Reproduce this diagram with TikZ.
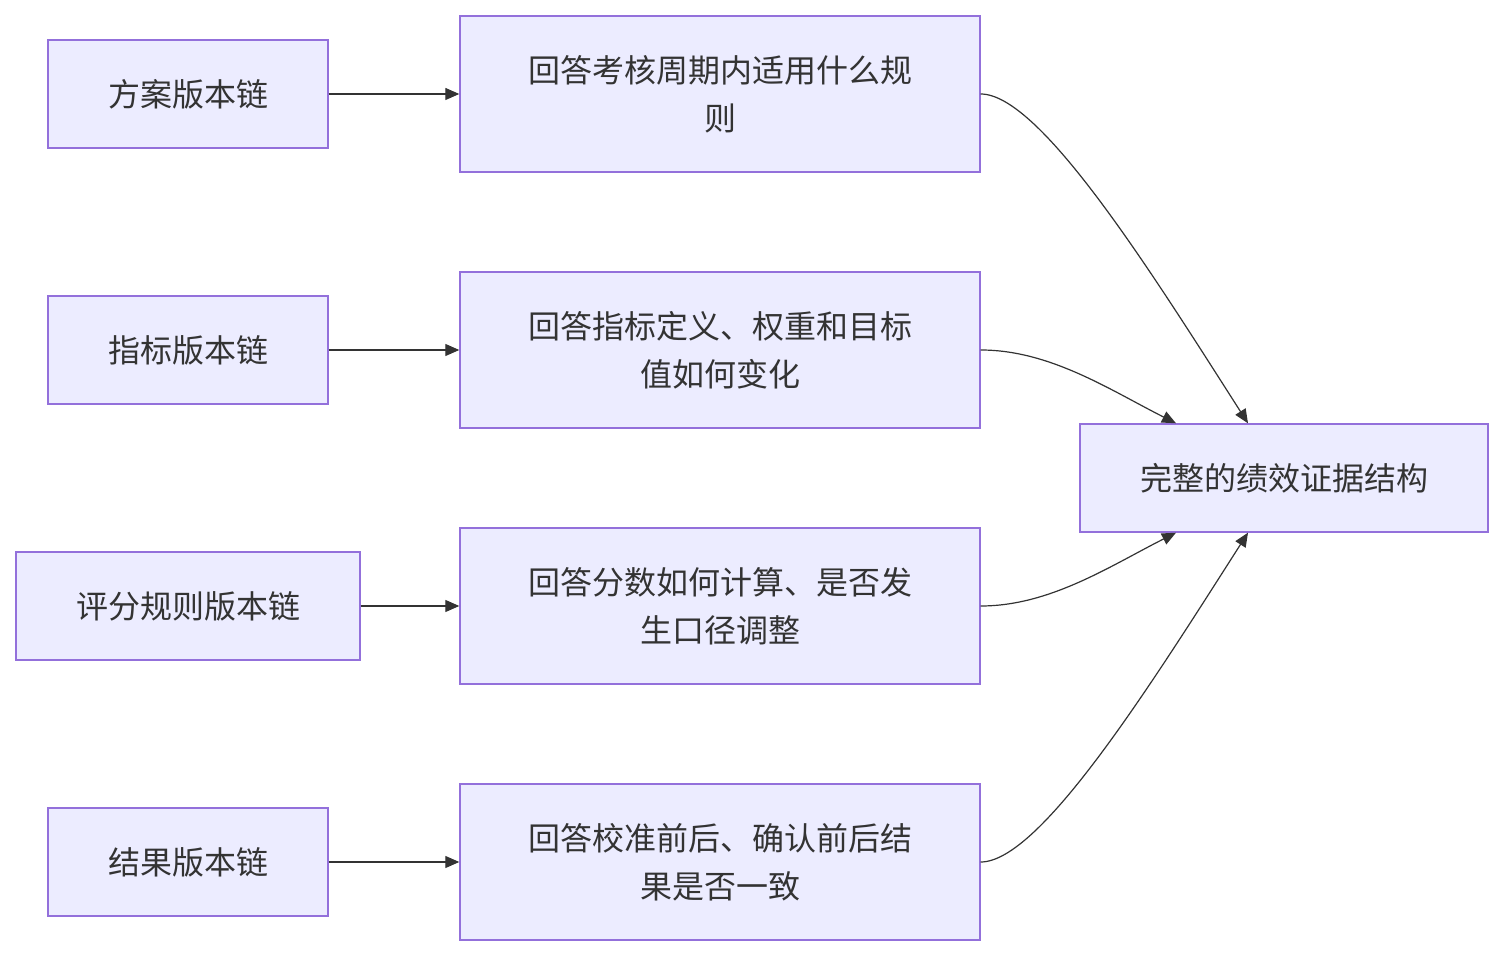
\documentclass[tikz,border=0pt]{standalone}
\usepackage{fontspec}
\setmainfont{Noto Sans CJK SC}
\usetikzlibrary{positioning,arrows.meta}
\definecolor{boxfill}{HTML}{ECECFF}
\definecolor{boxline}{HTML}{9370DB}
\definecolor{ink}{HTML}{333333}
\tikzset{
  chain/.style={draw=boxline, fill=boxfill, line width=0.7pt, minimum height=54pt, text=ink, font=\fontsize{16}{24}\selectfont, inner sep=0pt},
  answer/.style={chain, minimum width=260pt, minimum height=78pt, align=center},
  link/.style={draw=ink, line width=0.6pt, -{Triangle[length=7pt,width=6pt]}}
}
\begin{document}
\begin{tikzpicture}[x=0.5pt,y=-0.5pt]
\useasboundingbox (0,0) rectangle (1504,956);
% left column
\node[chain, minimum width=140pt] (plan) at (188,94) {方案版本链};
\node[chain, minimum width=140pt] (kpi) at (188,350) {指标版本链};
\node[chain, minimum width=172pt] (rule) at (188,606) {评分规则版本链};
\node[chain, minimum width=140pt] (result) at (188,862) {结果版本链};
% middle column
\node[answer] (qplan) at (720,94) {回答考核周期内适用什么规\\则};
\node[answer] (qkpi) at (720,350) {回答指标定义、权重和目标\\值如何变化};
\node[answer] (qrule) at (720,606) {回答分数如何计算、是否发\\生口径调整};
\node[answer] (qresult) at (720,862) {回答校准前后、确认前后结\\果是否一致};
% target
\node[chain, minimum width=204pt] (evid) at (1284,478) {完整的绩效证据结构};
\coordinate (inA) at ([xshift=-18pt]evid.north);
\coordinate (inB) at ([xshift=-54pt]evid.north);
\coordinate (inC) at ([xshift=-54pt]evid.south);
\coordinate (inD) at ([xshift=-18pt]evid.south);
\draw[link] (plan) -- (qplan);
\draw[link] (kpi) -- (qkpi);
\draw[link] (rule) -- (qrule);
\draw[link] (result) -- (qresult);
\draw[link] (qplan.east) .. controls (1040,94) and (1150,270) .. (inA);
\draw[link] (qkpi.east) .. controls (1050,350) and (1110,390) .. (inB);
\draw[link] (qrule.east) .. controls (1050,606) and (1110,566) .. (inC);
\draw[link] (qresult.east) .. controls (1040,862) and (1150,686) .. (inD);
\end{tikzpicture}
\end{document}
